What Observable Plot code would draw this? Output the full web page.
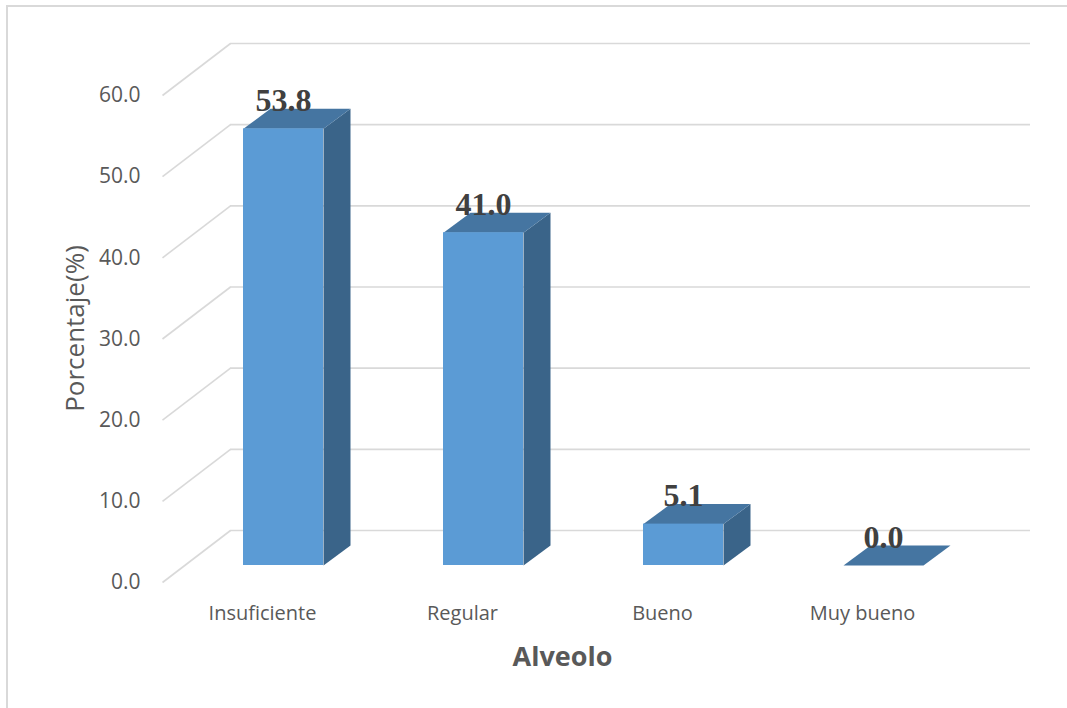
<!DOCTYPE html>
<html>
<head>
<meta charset="utf-8">
<script src="https://cdn.jsdelivr.net/npm/d3@7"></script>
<script src="https://cdn.jsdelivr.net/npm/@observablehq/plot@0.6"></script>
<style>
  html, body { margin: 0; padding: 0; background: #fff; }
  #wrap { position: relative; width: 1067px; height: 708px; overflow: hidden; }
  #border { position: absolute; left: 6px; top: 5px; width: 1070px; height: 720px;
            border-left: 2px solid #d9d9d9; border-top: 2px solid #d9d9d9; }
  #chart { position: absolute; left: 0; top: 0; }
</style>
</head>
<body>
<div id="wrap"><div id="border"></div><div id="chart"></div></div>
<script>
// ---- data ----
const categories = ["Insuficiente", "Regular", "Bueno", "Muy bueno"];
const values = [53.8, 41.0, 5.1, 0.0];
const valueLabels = ["53.8", "41.0", "5.1", "0.0"];
const yTicks = [0, 10, 20, 30, 40, 50, 60];
const yTickLabels = ["0.0", "10.0", "20.0", "30.0", "40.0", "50.0", "60.0"];
const yTitle = "Porcentaje(%)";
const xTitle = "Alveolo";

// ---- layout (pixels) ----
const X_RANGE = [162, 962];
const Y_RANGE = [582, 95];
const X_DOMAIN = [0, categories.length];
const Y_DOMAIN = [0, 60];
const kx = (X_RANGE[1] - X_RANGE[0]) / (X_DOMAIN[1] - X_DOMAIN[0]);
const ky = (Y_RANGE[0] - Y_RANGE[1]) / (Y_DOMAIN[1] - Y_DOMAIN[0]);
const WALL = {dx: 68, dy: -52};     // back wall offset from the front plane
const BAR = {dx: 21, dy: -17};      // bar front plane offset
const DEPTH = {dx: 27, dy: -20};    // bar depth
const HALF = 0.2;                   // half bar width (band units)
const bx = DEPTH.dx / kx, by = -DEPTH.dy / ky;

const bars = categories.map((c, i) => ({cat: c, i, c: i + 0.5, v: values[i], label: valueLabels[i]}));
const topFaces = bars.flatMap(b => [
  {cat: b.cat, x: b.c - HALF, y: b.v},
  {cat: b.cat, x: b.c + HALF, y: b.v},
  {cat: b.cat, x: b.c + HALF + bx, y: b.v + by},
  {cat: b.cat, x: b.c - HALF + bx, y: b.v + by}
]);
const sideFaces = bars.flatMap(b => [
  {cat: b.cat, x: b.c + HALF, y: 0},
  {cat: b.cat, x: b.c + HALF, y: b.v},
  {cat: b.cat, x: b.c + HALF + bx, y: b.v + by},
  {cat: b.cat, x: b.c + HALF + bx, y: by}
]);
const ticks = yTicks.map((t, i) => ({t, label: yTickLabels[i]}));

const GRID = "#d9d9d9";
const TEXT = "#595959";
const SANS = "'Open Sans', 'Noto Sans', sans-serif";

const chart = Plot.plot({
  width: 1067,
  height: 708,
  margin: 0,
  x: {type: "linear", domain: X_DOMAIN, range: X_RANGE, axis: null},
  y: {type: "linear", domain: Y_DOMAIN, range: Y_RANGE, axis: null},
  marks: [
    // back wall gridlines
    Plot.ruleY(ticks, {y: "t", x1: () => X_DOMAIN[0], x2: () => X_DOMAIN[1], dx: WALL.dx, dy: WALL.dy, stroke: GRID, strokeWidth: 1.6}),
    // side wall diagonals
    Plot.link(ticks, {x1: () => X_DOMAIN[0], y1: "t", x2: () => X_DOMAIN[0] + WALL.dx / kx, y2: d => d.t - WALL.dy / ky, stroke: GRID, strokeWidth: 1.6}),
    // y tick labels
    Plot.text(ticks, {x: () => X_DOMAIN[0], y: "t", text: "label", dx: -22, textAnchor: "end", fontSize: 21, fontFamily: SANS, fill: TEXT}),
    // bar side faces
    Plot.line(sideFaces, {x: "x", y: "y", z: "cat", fill: "#3a6489", stroke: null, dx: BAR.dx, dy: BAR.dy, curve: "linear-closed"}),
    // bar top faces
    Plot.line(topFaces, {x: "x", y: "y", z: "cat", fill: "#4575a1", stroke: null, dx: BAR.dx, dy: BAR.dy, curve: "linear-closed"}),
    // bar fronts
    Plot.rectY(bars, {x1: d => d.c - HALF, x2: d => d.c + HALF, y1: () => 0, y2: "v", fill: "#5b9bd5", dx: BAR.dx, dy: BAR.dy}),
    // value labels
    Plot.text(bars, {x: "c", y: d => d.v + by, text: "label", dx: BAR.dx, dy: BAR.dy + 2, lineAnchor: "bottom", textAnchor: "middle",
      fontSize: 32, fontWeight: "bold", fontFamily: "'Liberation Serif', 'Times New Roman', serif", fill: "#404040"}),
    // category labels
    Plot.text(bars, {x: "c", y: () => 0, text: "cat", dy: 31, textAnchor: "middle", fontSize: 20, fontFamily: SANS, fill: TEXT}),
    // x title
    Plot.text([xTitle], {x: () => X_DOMAIN[1] / 2, y: () => 0, text: d => d, dy: 75, textAnchor: "middle", fontSize: 27, fontWeight: "bold", fontFamily: SANS, fill: TEXT}),
    // y title
    Plot.text([yTitle], {frameAnchor: "left", text: d => d, dx: 75, dy: -26, rotate: -90, textAnchor: "middle", fontSize: 26, fontFamily: SANS, fill: TEXT})
  ]
});
chart.style.background = "transparent";
document.getElementById("chart").appendChild(chart);
</script>
</body>
</html>
